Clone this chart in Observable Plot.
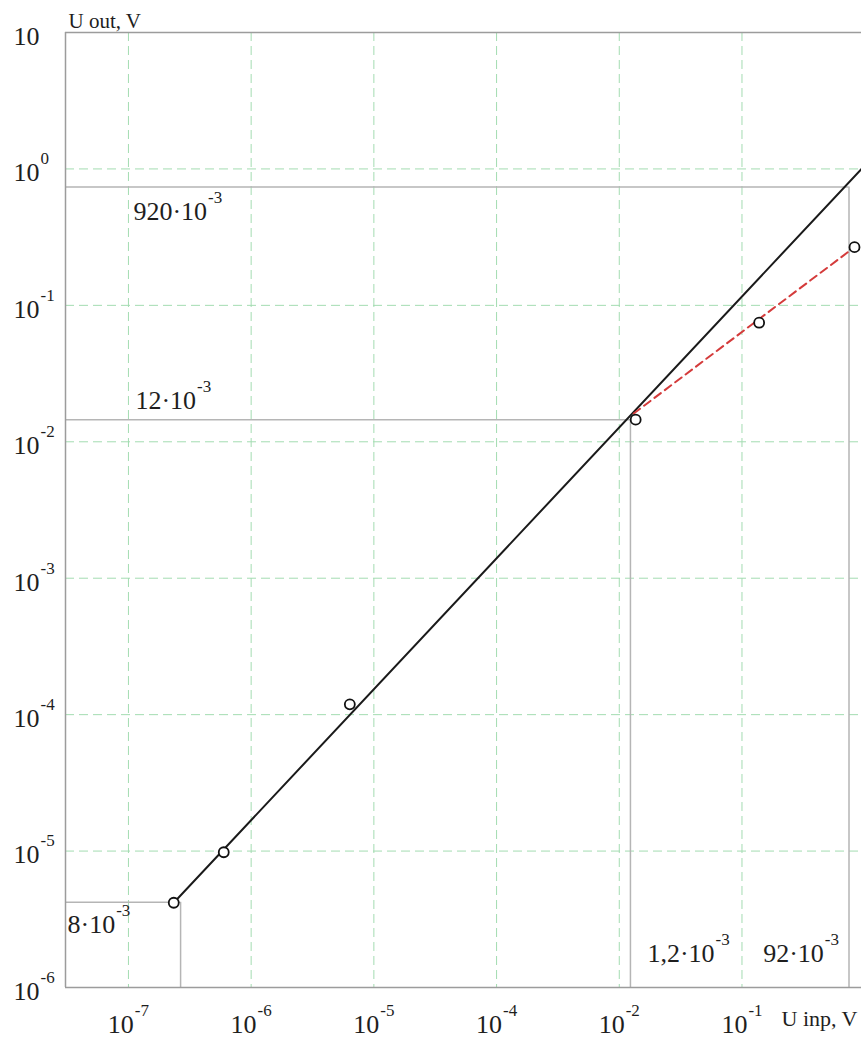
<!DOCTYPE html>
<html><head><meta charset="utf-8">
<script src="https://cdn.jsdelivr.net/npm/d3@7"></script>
<script src="https://cdn.jsdelivr.net/npm/@observablehq/plot@0.6"></script>
<style>html,body{margin:0;padding:0;background:#fff}</style>
</head><body><div id="chart"></div>
<script>
// ---- data ----
const xTicks = [1e-7, 1e-6, 1e-5, 1e-4, 1e-3, 1e-2];
const xTickLabels = ["10^-7", "10^-6", "10^-5", "10^-4", "10^-2", "10^-1"];
const yTicks = [1e-6, 1e-5, 1e-4, 1e-3, 1e-2, 1e-1, 1, 10];
const yTickLabels = ["10^-6", "10^-5", "10^-4", "10^-3", "10^-2", "10^-1", "10^0", "10"];
const xDomain = [10 ** -7.513, 10 ** -1.026];
const yDomain = [1e-6, 10];
const pointX = [2.34e-7, 5.98e-7, 6.37e-6, 1.36e-3, 1.38e-2, 8.26e-2];
const pointY = [4.18e-6, 9.8e-6, 1.19e-4, 1.452e-2, 7.46e-2, 0.267];
const lineX = [2.34e-7, 0.0942];
const lineY = [4.18e-6, 1.0];
const dashX = [1.31e-3, 8.26e-2];
const dashY = [1.61e-2, 0.267];
const guideX = [0.0745, 1.233e-3, 2.66e-7];
const guideY = [0.736, 0.01452, 4.21e-6];
const annotLabels = ["920·10^-3", "12·10^-3", "8·10^-3", "1,2·10^-3", "92·10^-3"];
const xLabel = "U inp, V";
const yLabel = "U out, V";

// ---- tables ----
const points = pointX.map((x, i) => ({x, y: pointY[i]}));
const line = lineX.map((x, i) => ({x, y: lineY[i]}));
const dash = dashX.map((x, i) => ({x, y: dashY[i]}));
const guides = guideX.map((x, i) => ({x, y: guideY[i]}));

const FONT = "Liberation Serif";
const TXT = "#1e1e1e";
const FS = 26;
const gridStyle = {stroke: "#a3dcb1", strokeOpacity: 1, strokeWidth: 1, strokeDasharray: "9,5"};
const annot = (i, o) => Plot.text([annotLabels[i]], {text: d => d, fontSize: FS, fill: TXT, lineAnchor: "bottom", textAnchor: "start", ...o});

const chart = Plot.plot({
  width: 861, height: 1039,
  marginLeft: 65, marginRight: 0, marginTop: 32, marginBottom: 52,
  style: {fontFamily: FONT, background: "#fff", overflow: "visible"},
  x: {type: "log", domain: xDomain},
  y: {type: "log", domain: yDomain},
  marks: [
    Plot.gridX({ticks: xTicks, ...gridStyle}),
    Plot.gridY({ticks: yTicks.slice(1, -1), ...gridStyle}),
    Plot.ruleY(guides, {y: "y", x1: () => xDomain[0], x2: "x", stroke: "#b5b5b5", strokeWidth: 1.5}),
    Plot.ruleX(guides, {x: "x", y1: () => yDomain[0], y2: "y", stroke: "#b5b5b5", strokeWidth: 1.5}),
    Plot.ruleY(yDomain, {stroke: "#9c9c9c", strokeWidth: 1.5}),
    Plot.ruleX([xDomain[0]], {stroke: "#9c9c9c", strokeWidth: 1.5}),
    Plot.line(line, {x: "x", y: "y", stroke: "#1a1a1a", strokeWidth: 2}),
    Plot.line(dash, {x: "x", y: "y", stroke: "#d43b3b", strokeWidth: 2, strokeDasharray: "8,5"}),
    Plot.dot(points, {x: "x", y: "y", r: 5, fill: "white", stroke: "#111", strokeWidth: 1.8}),
    Plot.axisX({ticks: xTicks, tickFormat: d => xTickLabels[xTicks.indexOf(d)], tickSize: 0, tickPadding: 0, dy: 27, fontSize: FS, fill: TXT, label: null}),
    Plot.axisY({ticks: yTicks, tickFormat: d => yTickLabels[yTicks.indexOf(d)], tickSize: 0, tickPadding: 0, textAnchor: "start", dx: -52, dy: 4, fontSize: FS, fill: TXT, label: null}),
    annot(0, {x: () => xTicks[0], y: () => guideY[0], dx: 5, dy: 33}),
    annot(1, {x: () => xTicks[0], y: () => guideY[1], dx: 7, dy: -11}),
    annot(2, {frameAnchor: "left", y: () => guideY[2], dx: 2, dy: 31}),
    annot(3, {frameAnchor: "bottom", x: () => guideX[1], dx: 17, dy: -26}),
    annot(4, {frameAnchor: "bottom", x: () => guideX[0], dx: -10, dy: -26, textAnchor: "end"}),
    Plot.text([yLabel], {frameAnchor: "top-left", text: d => d, dx: 3, dy: -5, lineAnchor: "bottom", textAnchor: "start", fontSize: 21, fill: TXT}),
    Plot.text([xLabel], {frameAnchor: "bottom-right", text: d => d, dx: -4, dy: 38, lineAnchor: "bottom", textAnchor: "end", fontSize: 22, fill: TXT})
  ]
});

// superscripts: "base^exp" -> base + raised smaller exponent
d3.select(chart).selectAll("text").each(function () {
  const t = this.textContent;
  if (!t.includes("^")) return;
  const [base, exp] = t.split("^");
  const sel = d3.select(this);
  sel.text(null);
  sel.append("tspan").text(base);
  sel.append("tspan").attr("font-size", 17).attr("dx", 1).attr("dy", -17).text(exp);
});

document.getElementById("chart").appendChild(chart);
</script>
</body></html>
